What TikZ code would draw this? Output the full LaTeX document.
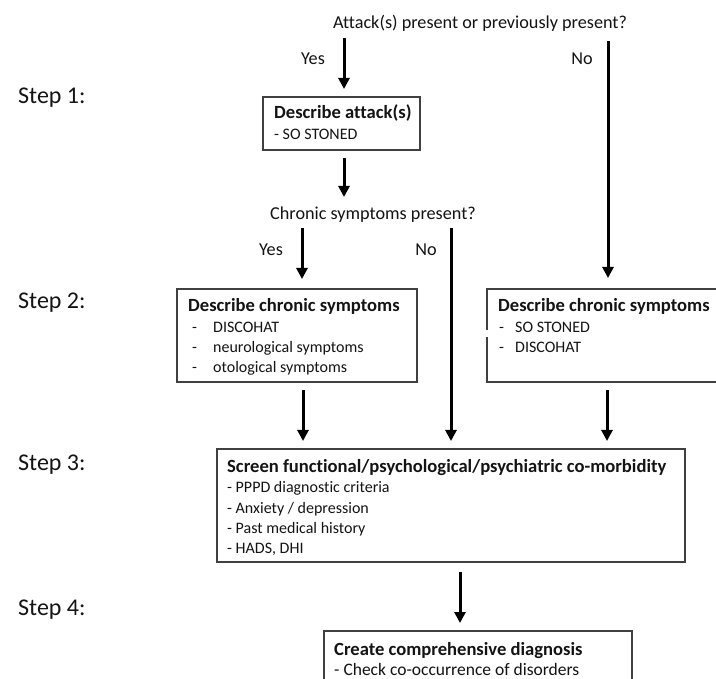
\documentclass[tikz,border=0pt]{standalone}
\usepackage{fontspec}
\setmainfont{Carlito}[Ligatures={NoCommon}]
\usetikzlibrary{arrows.meta}
\definecolor{boxgray}{HTML}{404040}
\definecolor{ink}{HTML}{141414}
\begin{document}
\begin{tikzpicture}[x=1pt,y=-1pt,
  boxnode/.style={draw=boxgray,line width=1.6pt,rectangle,anchor=north west,inner sep=0pt,outer sep=0pt},
  ttl/.style={anchor=base west,inner sep=0pt,text=ink,font=\fontsize{18.6}{22}\selectfont\bfseries},
  itm/.style={anchor=base west,inner sep=0pt,text=ink,font=\fontsize{16}{20}\selectfont},
  itmbig/.style={anchor=base west,inner sep=0pt,text=ink,font=\fontsize{17.5}{21}\selectfont},
  lbl/.style={anchor=base,inner sep=0pt,text=ink,font=\fontsize{18.2}{22}\selectfont},
  steplbl/.style={anchor=base west,inner sep=0pt,text=ink,font=\fontsize{24}{28}\selectfont},
  arr/.style={line width=3pt,draw=black,-{Triangle[width=11pt,length=11pt]}}]
\useasboundingbox (0,0) rectangle (716,679);
\clip (0,0) rectangle (716,679);
\fill[white] (0,0) rectangle (716,679);

% step labels
\node[steplbl] (s1) at (18,104) {Step 1:};
\node[steplbl] (s2) at (18,309) {Step 2:};
\node[steplbl] (s3) at (18,471) {Step 3:};
\node[steplbl] (s4) at (18,615) {Step 4:};

% questions and labels
\node[lbl] (q1) at (480,29) {Attack(s) present or previously present?};
\node[lbl] (yes1) at (313,65) {Yes};
\node[lbl] (no1) at (582,65) {No};
\node[lbl] (q2) at (373,220) {Chronic symptoms present?};
\node[lbl] (yes2) at (271,256) {Yes};
\node[lbl] (no2) at (426,256) {No};

% boxes
\node[boxnode,minimum width=157pt,minimum height=53pt] (attack) at (263,97) {};
\node[ttl] (attackT) at (274,119) {Describe attack(s)};
\node[itm] (attackI) at (274,140) {- SO STONED};

\node[boxnode,minimum width=240pt,minimum height=93pt] (left) at (177,289) {};
\node[ttl] (leftT) at (188,312) {Describe chronic symptoms};
\node[itm] (leftD1) at (192,333) {-};
\node[itm] (leftI1) at (213,333) {DISCOHAT};
\node[itm] (leftD2) at (192,353) {-};
\node[itm] (leftI2) at (213,353) {neurological symptoms};
\node[itm] (leftD3) at (192,373) {-};
\node[itm] (leftI3) at (213,373) {otological symptoms};

\node[boxnode,minimum width=260pt,minimum height=93pt] (right) at (487,289) {};
\fill[white] ([yshift=-41pt]right.north west) ++(-1.5pt,0) rectangle ++(3pt,-7pt);
\node[ttl] (rightT) at (498,312) {Describe chronic symptoms};
\node[itm] (rightD1) at (499,333) {-};
\node[itm] (rightI1) at (515,333) {SO STONED};
\node[itm] (rightD2) at (499,353) {-};
\node[itm] (rightI2) at (515,353) {DISCOHAT};

\node[boxnode,minimum width=468pt,minimum height=113pt] (screen) at (217,449) {};
\node[ttl] (screenT) at (227,472) {Screen functional/psychological/psychiatric co-morbidity};
\node[itm] (screenI1) at (227,493) {- PPPD diagnostic criteria};
\node[itm] (screenI2) at (227,513) {- Anxiety / depression};
\node[itm] (screenI3) at (227,533) {- Past medical history};
\node[itm] (screenI4) at (227,553) {- HADS, DHI};

\node[boxnode,minimum width=308pt,minimum height=80pt] (diag) at (324,631) {};
\node[ttl] (diagT) at (334,655) {Create comprehensive diagnosis};
\node[itmbig] (diagI) at (334,675) {- Check co-occurrence of disorders};

% arrow ends
\coordinate (a1s) at (344,38);  \coordinate (a1e) at (344,89);
\coordinate (a2s) at (608,41);  \coordinate (a2e) at (608,278);
\coordinate (a3s) at (344,158); \coordinate (a3e) at (344,197);
\coordinate (a4s) at (302,228); \coordinate (a4e) at (302,279);
\coordinate (a5s) at (451,228); \coordinate (a5e) at (451,441);
\coordinate (a6s) at (303,390); \coordinate (a6e) at (303,441);
\coordinate (a7s) at (607,390); \coordinate (a7e) at (607,441);
\coordinate (a8s) at (460,572); \coordinate (a8e) at (460,623);

\draw[arr] (a1s) -- (a1e);
\draw[arr] (a2s) -- (a2e);
\draw[arr] (a3s) -- (a3e);
\draw[arr] (a4s) -- (a4e);
\draw[arr] (a5s) -- (a5e);
\draw[arr] (a6s) -- (a6e);
\draw[arr] (a7s) -- (a7e);
\draw[arr] (a8s) -- (a8e);
\end{tikzpicture}
\end{document}
